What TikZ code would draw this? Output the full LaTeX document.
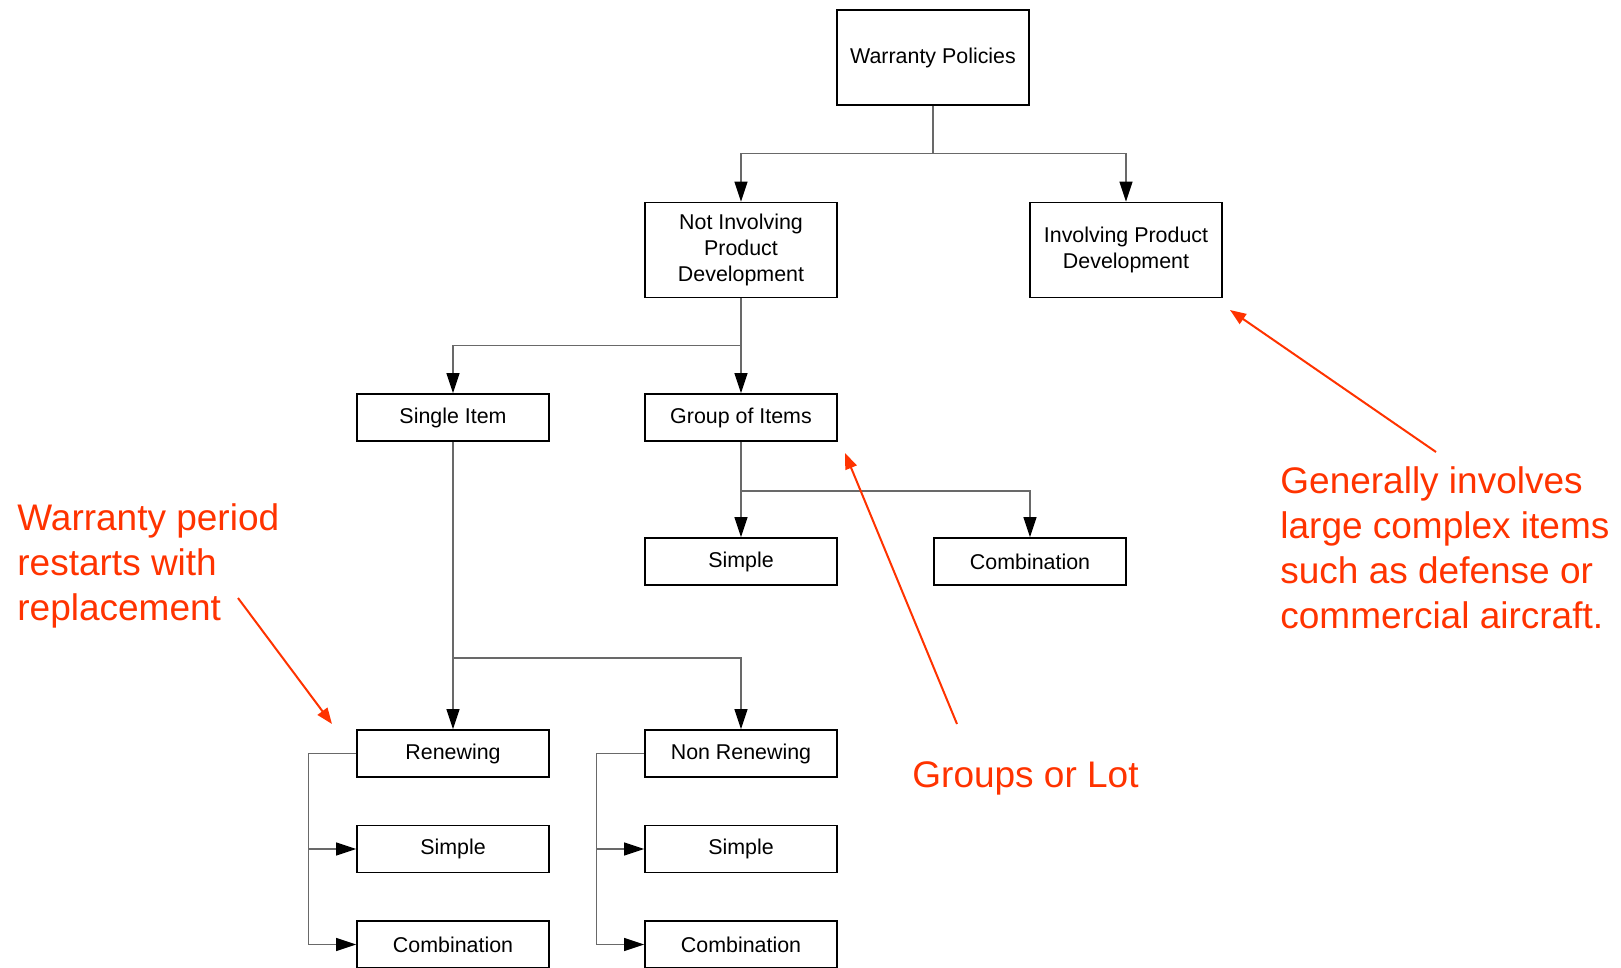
\documentclass[tikz,border=0pt]{standalone}
\usepackage{fontspec}
\setmainfont{Liberation Sans}
\usetikzlibrary{arrows.meta}
\definecolor{notered}{RGB}{255,51,0}
\definecolor{linegray}{RGB}{105,105,105}

\begin{document}
\begin{tikzpicture}[x=0.5pt,y=-0.5pt,
    box/.style={draw, line width=0.9pt, minimum width=96pt, minimum height=23.5pt,
      inner sep=2pt, align=center, font=\fontsize{10.7}{12.9}\selectfont},
    tall/.style={minimum height=47.5pt},
    conn/.style={draw=linegray, line width=0.6pt,
      -{Triangle[length=10pt,width=6.5pt,color=black]}},
    note/.style={text=notered, align=left, inner sep=0pt,
      font=\fontsize{18.5}{22.5}\selectfont},
    notearrow/.style={draw=notered, line width=1pt,
      -{Triangle[length=8pt,width=6pt]}}]

  \useasboundingbox (0,0) rectangle (1621,968);

  \begin{scope}[every node/.style={box}]
    \node[tall] (wp)  at (933,57.5) {Warranty Policies};
    \node[tall] (ni)  at (741,250)  {Not Involving\\Product\\Development};
    \node[tall] (ipd) at (1126,250) {Involving Product\\Development};
    \node (si) at (453,417.5) {Single Item};
    \node (gi) at (741,417.5) {Group of Items};
    \node (gs) at (741,561.5) {Simple};
    \node (gc) at (1030,561.5) {Combination};
    \node (rn) at (453,753.5) {Renewing};
    \node (nr) at (741,753.5) {Non Renewing};
    \node (rs) at (453,849)   {Simple};
    \node (ns) at (741,849)   {Simple};
    \node (rc) at (453,944.5) {Combination};
    \node (nc) at (741,944.5) {Combination};
  \end{scope}

  % tree
  \draw[conn] (wp.south) -- ++(0,48) -| (ni.north);
  \draw[conn] (wp.south) -- ++(0,48) -| (ipd.north);
  \draw[conn] (ni.south) -- ++(0,47) -| (si.north);
  \draw[conn] (ni.south) -- (gi.north);
  \draw[conn] (gi.south) -- (gs.north);
  \draw[conn] (gi.south) -- ++(0,49) -| (gc.north);
  \draw[conn] (si.south) -- (rn.north);
  \draw[conn] (si.south) -- ++(0,216) -| (nr.north);
  \draw[conn] (rn.west) -- ++(-48,0) |- (rs.west);
  \draw[conn] (rn.west) -- ++(-48,0) |- (rc.west);
  \draw[conn] (nr.west) -- ++(-48,0) |- (ns.west);
  \draw[conn] (nr.west) -- ++(-48,0) |- (nc.west);

  % notes
  \node[note, anchor=west] (rnnote) at (17,566) {Warranty period\\restarts with\\replacement};
  \node[note, anchor=west] (gnote) at (912,778) {Groups or Lot};
  \node[note, anchor=west] (pnote) at (1280,548)
    {Generally involves\\large complex items\\such as defense or\\commercial aircraft.};

  \coordinate (rntail) at (238,598);
  \coordinate (rntip)  at (332,724);
  \coordinate (gtail)  at (957,724);
  \coordinate (gtip)   at (845,453);
  \coordinate (ptail)  at (1436,452);
  \coordinate (ptip)   at (1230,310);
  \draw[notearrow] (rntail) -- (rntip);
  \draw[notearrow] (gtail) -- (gtip);
  \draw[notearrow] (ptail) -- (ptip);

\end{tikzpicture}
\end{document}
